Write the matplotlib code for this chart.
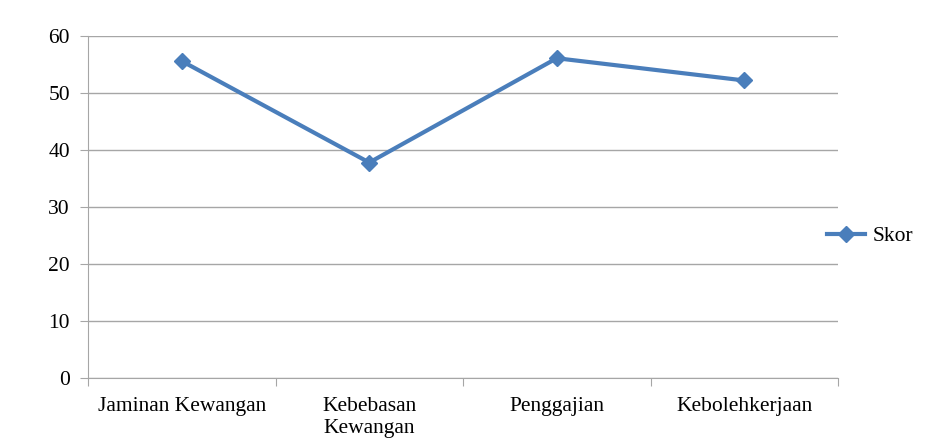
import matplotlib
matplotlib.use("Agg")
import matplotlib.pyplot as plt
from matplotlib.ticker import FixedLocator, NullFormatter

categories = ["Jaminan Kewangan", "Kebebasan\nKewangan", "Penggajian", "Kebolehkerjaan"]
skor = [55.6, 37.8, 56.1, 52.2]
yticks = [0, 10, 20, 30, 40, 50, 60]

plt.rcParams['font.family'] = ['Liberation Serif', 'DejaVu Serif']

fig = plt.figure(figsize=(9.44, 4.42), dpi=100)
ax = fig.add_axes([88/944, 1-378/442, (838-88)/944, (378-36)/442])

x = list(range(len(categories)))
ax.plot(x, skor, color='#4a7ebb', linewidth=3.0, marker='D', markersize=8,
        label='Skor', solid_joinstyle='round')

ax.set_xlim(-0.5, len(categories) - 0.5)
ax.set_ylim(0, 60)
ax.set_yticks(yticks)
ax.yaxis.grid(True, color='#a6a6a6', linewidth=1)
ax.set_axisbelow(True)

ax.xaxis.set_major_locator(FixedLocator([i - 0.5 for i in range(len(categories) + 1)]))
ax.xaxis.set_major_formatter(NullFormatter())
ax.xaxis.set_minor_locator(FixedLocator(x))
ax.set_xticklabels(categories, minor=True, linespacing=1.2)
ax.tick_params(axis='x', which='minor', length=0, pad=14, labelsize=15.5)
ax.tick_params(axis='x', which='major', length=6, color='#a6a6a6', direction='out')
ax.tick_params(axis='y', length=6, color='#a6a6a6', direction='out', labelsize=15.5, pad=7)

for s in ['top', 'right']:
    ax.spines[s].set_visible(False)
for s in ['left', 'bottom']:
    ax.spines[s].set_color('#a6a6a6')

ax.legend(loc='center left', bbox_to_anchor=(0.96, 0.415), frameon=False, fontsize=15.5,
          handlelength=1.75, handletextpad=0.35)

fig.savefig("out.png", dpi=100)
